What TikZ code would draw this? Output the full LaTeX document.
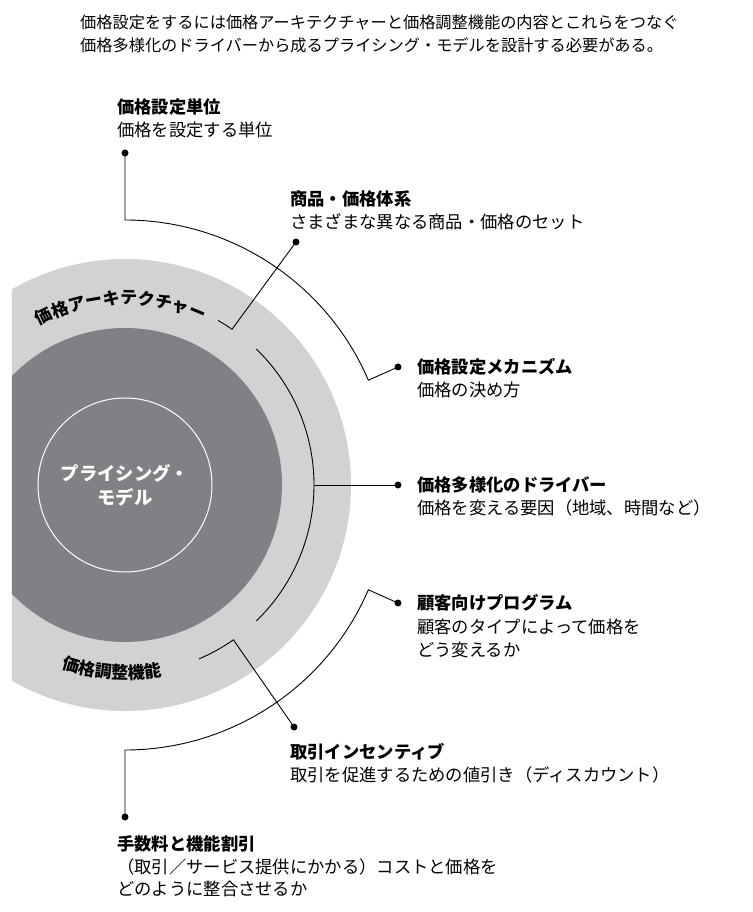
\documentclass[tikz,border=0pt]{standalone}
\usepackage{fontspec}
\setmainfont{Noto Sans CJK JP}
\usetikzlibrary{decorations.text}
\definecolor{ringlight}{HTML}{D1D2D4}
\definecolor{ringdark}{HTML}{808184}
\newcommand\lblfont{\fontsize{17.3}{23}\selectfont}
\newcommand\topfont{\fontsize{16.2}{23}\selectfont}
\newcommand\ctrfont{\fontsize{18.3}{24}\selectfont\bfseries}
\newcommand\arcfont{\fontsize{17}{17}\selectfont\bfseries}
\begin{document}
\begin{tikzpicture}[x=1pt,y=1pt,
  conn/.style={line width=0.9pt, draw=black},
  dotnode/.style={circle, fill=black, inner sep=0pt, minimum size=7pt},
  ttl/.style={anchor=base west, inner sep=0pt, font=\lblfont\bfseries},
  sub/.style={anchor=base west, inner sep=0pt, font=\lblfont},
  para/.style={anchor=base west, inner sep=0pt, font=\topfont},
  ctr/.style={anchor=base, inner sep=0pt, font=\ctrfont, text=white}]
\useasboundingbox (-125,-427) rectangle (627,485);
% circles
\begin{scope}
  \clip (-113,-240) rectangle (240,240);
  \fill[ringlight] (0,0) circle[radius=226];
  \fill[ringdark] (0,0) circle[radius=157];
\end{scope}
\draw[white, line width=1pt] (0,0) circle[radius=87];
% ring texts
\path[decorate, decoration={text along path, text align=center,
  text={|\arcfont|価格アーキテクチャー}}]
  (121:181) arc[start angle=121, end angle=62, radius=181];
\path[decorate, decoration={text along path, text align=center,
  text={|\arcfont|価格調整機能}}]
  (-111:194) arc[start angle=-111, end angle=-77, radius=194];
% centre text
\node[ctr] (c1) at (0,4) {プライシング・};
\node[ctr] (c2) at (0,-20) {モデル};
% top paragraph
\node[para] (p1) at (-45,456.8) {価格設定をするには価格アーキテクチャーと価格調整機能の内容とこれらをつなぐ};
\node[para] (p2) at (-45,433.8) {価格多様化のドライバーから成るプライシング・モデルを設計する必要がある。};
% dots
\node[dotnode] (d1) at (0,332) {};
\node[dotnode] (d2) at (171,243) {};
\node[dotnode] (d3) at (273,118) {};
\node[dotnode] (d4) at (273,0) {};
\node[dotnode] (d5) at (273,-118) {};
\node[dotnode] (d6) at (169,-242) {};
\node[dotnode] (d7) at (0,-332) {};
% connectors
\draw[conn] (d1.center) -- (0,265) arc[start angle=90, end angle=23.3, radius=265] -- (d3.center);
\draw[conn] (d7.center) -- (0,-265) arc[start angle=-90, end angle=-23.3, radius=265] -- (d5.center);
\draw[conn] (-46:189) arc[start angle=-46, end angle=46, radius=189];
\draw[conn] (0:189) -- (d4.center);
\draw[conn] (60.5:189) arc[start angle=60.5, end angle=55.5, radius=189] -- (d2.center);
\draw[conn] (-67:189) arc[start angle=-67, end angle=-55, radius=189] -- (d6.center);
% labels
\node[ttl] (t1) at (-8,371.4) {価格設定単位};
\node[sub] (s1) at (-8,348.4) {価格を設定する単位};
\node[ttl] (t2) at (165,279.4) {商品・価格体系};
\node[sub] (s2) at (165,256.4) {さまざまな異なる商品・価格のセット};
\node[ttl] (t3) at (292,111.4) {価格設定メカニズム};
\node[sub] (s3) at (292,88.4) {価格の決め方};
\node[ttl] (t4) at (292,-6.6) {価格多様化のドライバー};
\node[sub] (s4) at (292,-29.6) {価格を変える要因（地域、時間など）};
\node[ttl] (t5) at (292,-124.6) {顧客向けプログラム};
\node[sub] (s5a) at (292,-148.6) {顧客のタイプによって価格を};
\node[sub] (s5b) at (292,-171.6) {どう変えるか};
\node[ttl] (t6) at (165,-273.6) {取引インセンティブ};
\node[sub] (s6) at (165,-296.6) {取引を促進するための値引き（ディスカウント）};
\node[ttl] (t7) at (-8,-365.6) {手数料と機能割引};
\node[sub] (s7a) at (-8,-388.6) {（取引／サービス提供にかかる）コストと価格を};
\node[sub] (s7b) at (-8,-410.6) {どのように整合させるか};
\end{tikzpicture}
\end{document}
